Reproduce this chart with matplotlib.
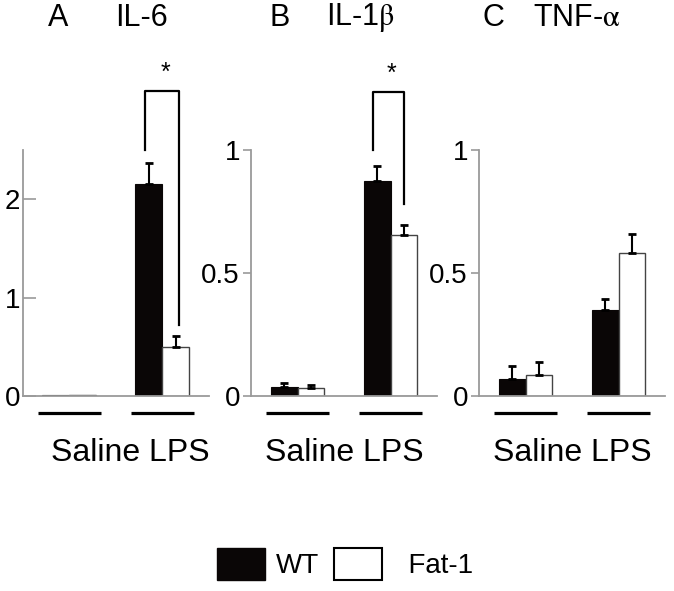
import matplotlib.pyplot as plt
from matplotlib.patches import Patch

plt.rcParams['font.family'] = ['Liberation Sans', 'DejaVu Sans']
plt.rcParams['mathtext.fontset'] = 'stix'

groups = ['Saline', 'LPS']

il6_wt = [0.012, 2.15]
il6_wt_err = [0.0, 0.22]
il6_fat = [0.012, 0.50]
il6_fat_err = [0.0, 0.11]

il1b_wt = [0.036, 0.875]
il1b_wt_err = [0.016, 0.06]
il1b_fat = [0.032, 0.653]
il1b_fat_err = [0.012, 0.041]

tnf_wt = [0.069, 0.35]
tnf_wt_err = [0.051, 0.045]
tnf_fat = [0.085, 0.58]
tnf_fat_err = [0.052, 0.08]

W, H = 674, 591
fig = plt.figure(figsize=(W / 100, H / 100), dpi=100)

GRAY = '#9a9a9a'
bw = 0.29


def errs(ax, xs, ys, es):
    # only draw whiskers where there is an error to show
    for x, y, e in zip(xs, ys, es):
        if e > 0:
            ax.errorbar(x, y, yerr=[[0], [e]], fmt='none', ecolor='black',
                        elinewidth=1.5, capsize=3, capthick=2, zorder=3)


def panel(left_px, wt, wt_err, fat, fat_err, ymax, yticks, yticklabels, tickdir):
    ax = fig.add_axes([left_px / W, (H - 396) / H, 186 / W, 246 / H])
    x = [0, 1]
    xw = [i - bw / 2 for i in x]
    xf = [i + bw / 2 for i in x]
    ax.bar(xw, wt, bw, color='#0a0606', edgecolor='#0a0606', linewidth=0.8, zorder=2)
    ax.bar(xf, fat, bw, color='white', edgecolor='#444444', linewidth=1.0, zorder=2)
    errs(ax, xw, wt, wt_err)
    errs(ax, xf, fat, fat_err)
    ax.set_xlim(-0.5, 1.5)
    ax.set_ylim(0, ymax)
    for s in ['top', 'right']:
        ax.spines[s].set_visible(False)
    for s in ['left', 'bottom']:
        ax.spines[s].set_color(GRAY)
        ax.spines[s].set_linewidth(1.3)
    ax.set_xticks([])
    ax.set_yticks(yticks)
    ax.set_yticklabels(yticklabels)
    ax.tick_params(axis='y', direction=tickdir, length=9 if tickdir == 'in' else 6,
                   width=1.2, color=GRAY, labelsize=20, pad=2)
    ax.set_facecolor('none')
    # group underlines
    tr = ax.get_xaxis_transform()
    for i in x:
        ax.plot([i - 0.34, i + 0.34], [-0.07, -0.07], color='black', lw=2.3,
                transform=tr, clip_on=False, solid_capstyle='butt')
    ax.text(0.5, -0.23, 'Saline LPS', transform=ax.transAxes, ha='center',
            va='center', fontsize=23)
    return ax


axA = panel(22.7, il6_wt, il6_wt_err, il6_fat, il6_fat_err, 2.5,
            [0, 1, 2], ['0', '1', '2'], 'in')
axB = panel(251, il1b_wt, il1b_wt_err, il1b_fat, il1b_fat_err, 1.0,
            [0, 0.5, 1], ['0', '0.5', '1'], 'out')
axC = panel(479, tnf_wt, tnf_wt_err, tnf_fat, tnf_fat_err, 1.0,
            [0, 0.5, 1], ['0', '0.5', '1'], 'out')

# move "Saline LPS" slightly for panel A
axA.texts[0].set_x(0.58)


def bracket(ax, xl, xr, yl, ytop, yr, ystar):
    ax.plot([xl, xl, xr, xr], [yl, ytop, ytop, yr], color='black', lw=1.6,
            clip_on=False)
    ax.text((xl + xr) / 2 + 0.03, ystar, '*', ha='center', va='center',
            fontsize=18, clip_on=False)


bracket(axA, 0.82, 1.18, 2.5, 3.10, 0.72, 3.28)
bracket(axB, 0.81, 1.15, 1.0, 1.235, 0.78, 1.31)

# panel titles
fig.text(58 / W, 1 - 18 / H, 'A', ha='center', va='center', fontsize=22)
fig.text(142 / W, 1 - 18 / H, 'IL-6', ha='center', va='center', fontsize=22)
fig.text(280 / W, 1 - 18 / H, 'B', ha='center', va='center', fontsize=22)
fig.text(360 / W, 1 - 18 / H, r'IL-1$\mathrm{\beta}$', ha='center', va='center', fontsize=22)
fig.text(493 / W, 1 - 18 / H, 'C', ha='center', va='center', fontsize=22)
fig.text(577 / W, 1 - 18 / H, r'TNF-$\mathrm{\alpha}$', ha='center', va='center', fontsize=22)

handles = [Patch(facecolor='#0a0606', edgecolor='#0a0606'),
           Patch(facecolor='white', edgecolor='black', linewidth=1.5)]
fig.legend(handles, ['WT', '  Fat-1'], loc='center', bbox_to_anchor=(345 / W, 1 - 564 / H),
           ncol=2, frameon=False, fontsize=20, handlelength=1.75, handleheight=1.4,
           handletextpad=0.4, columnspacing=0.5)

fig.savefig('out.png', dpi=100)
